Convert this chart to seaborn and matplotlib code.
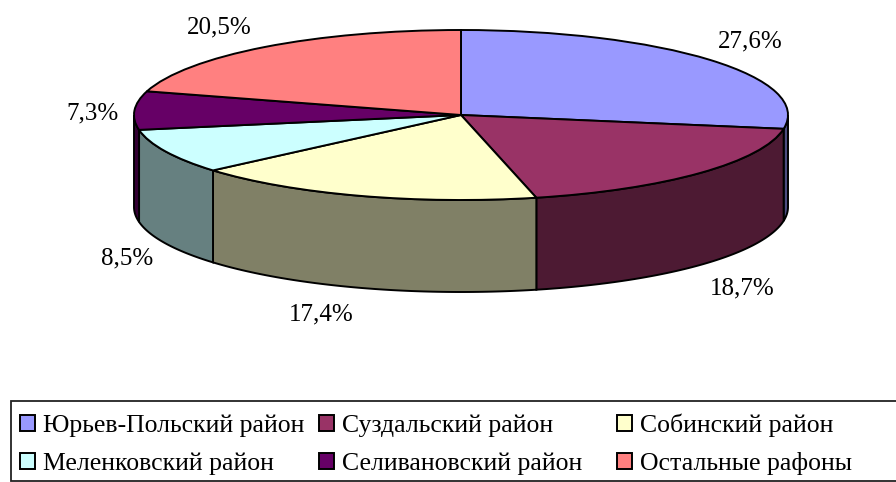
import numpy as np
import matplotlib
matplotlib.use("Agg")
import matplotlib.pyplot as plt
from matplotlib.patches import Rectangle
import seaborn as sns

# данные диаграммы
districts = ["Юрьев-Польский район", "Суздальский район", "Собинский район",
             "Меленковский район", "Селивановский район", "Остальные рафоны"]
shares = [27.6, 18.7, 17.4, 8.5, 7.3, 20.5]
share_labels = ["27,6%", "18,7%", "17,4%", "8,5%", "7,3%", "20,5%"]
top_colors = ["#9999FF", "#993366", "#FFFFCC", "#CCFFFF", "#660066", "#FF8080"]
wall_colors = ["#4C4C80", "#4D1A33", "#808066", "#668080", "#330033", "#804040"]

W, H = 896, 482
# положение подписей и легенды в пикселях
label_pos = [(750, 41), (742, 288), (321, 314), (127, 258), (93, 113), (219, 27)]
legend_pos = [(20, 415), (319, 415), (617, 415), (20, 453), (319, 453), (617, 453)]
DEPTH = 92 / 85

sns.set_theme(style="white")
plt.rcParams["font.family"] = ["Liberation Serif", "DejaVu Serif"]

fig = plt.figure(figsize=(W / 100, H / 100), dpi=100, facecolor="white")

# верхний эллипс занимает x 134..788, y 30..200
ax = fig.add_axes([134 / W, (H - 200) / H, 654 / W, 170 / H])
wedges, _ = ax.pie(shares, colors=sns.color_palette(top_colors), startangle=90,
                   counterclock=False, radius=1,
                   wedgeprops={"edgecolor": "black", "linewidth": 1.4, "zorder": 3})
for w in wedges:
    w.set_clip_on(False)
ax.set_aspect("auto")
ax.set_xlim(-1, 1)
ax.set_ylim(-1, 1)

# боковая стенка: только передняя половина каждого сектора
edges = np.cumsum([0] + shares) / sum(shares) * 360
for i in range(len(shares)):
    a0 = max(edges[i], 90)
    a1 = min(edges[i + 1], 270)
    if a0 >= a1:
        continue
    t = np.radians(90 - np.linspace(a0, a1, 80))
    xs = np.cos(t)
    ys = np.sin(t)
    ax.fill(np.r_[xs, xs[::-1]], np.r_[ys, ys[::-1] - DEPTH],
            facecolor=wall_colors[i], edgecolor="black", linewidth=1.4,
            zorder=2, clip_on=False)

# подписи и легенда в пиксельных координатах
over = fig.add_axes([0, 0, 1, 1], facecolor="none")
over.set_xlim(0, W)
over.set_ylim(H, 0)
over.axis("off")

for (x, y), s in zip(label_pos, share_labels):
    over.text(x, y, s, fontsize=18, ha="center", va="center", color="black")

over.add_patch(Rectangle((11, 401), W + 5, 80, facecolor="white",
                         edgecolor="#222222", linewidth=1.3))
for (x, y), name, c in zip(legend_pos, districts, top_colors):
    over.add_patch(Rectangle((x, y), 15, 16, facecolor=c,
                             edgecolor="black", linewidth=1.4))
    over.text(x + 23, y + 17, name, fontsize=18.5, ha="left", va="baseline",
              color="black")

fig.savefig("out.png", dpi=100)
